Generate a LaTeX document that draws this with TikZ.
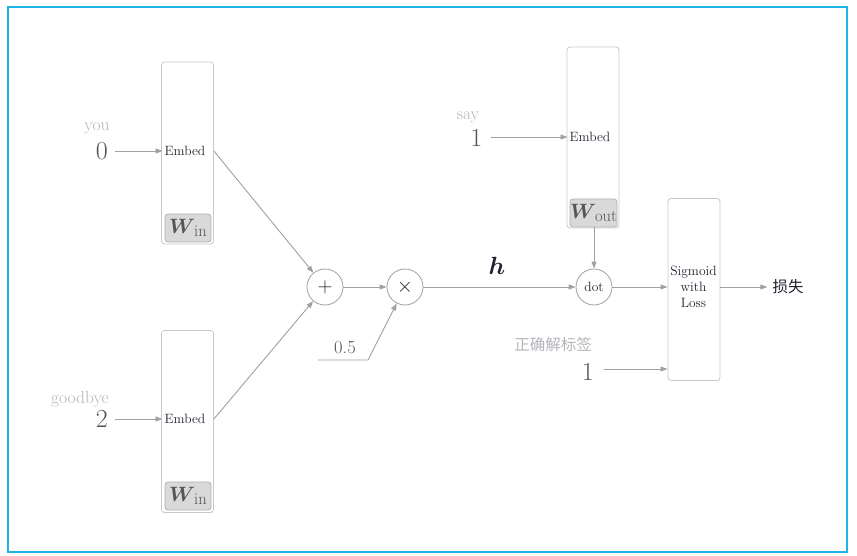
\documentclass[tikz,border=0pt]{standalone}
\usepackage{fontspec}
\usepackage{bm}
\usetikzlibrary{arrows.meta}
\newfontfamily\cjk{Noto Sans CJK SC}
\definecolor{frame}{HTML}{1EB4E8}
\definecolor{linec}{HTML}{A0A0A0}
\definecolor{boxc}{HTML}{C8C8C8}
\definecolor{lblc}{HTML}{B4B4BA}
\definecolor{numc}{HTML}{555555}
\definecolor{txtc}{HTML}{222230}
\definecolor{wfill}{HTML}{D9D9D9}
\definecolor{wdraw}{HTML}{B0B0B0}
\tikzset{
  layerbox/.style={draw=boxc, line width=0.8pt, rounded corners=3pt, minimum width=52pt, inner sep=0pt},
  wbox/.style={draw=wdraw, fill=wfill, line width=0.8pt, rounded corners=3pt, minimum width=46pt, minimum height=28pt, inner sep=0pt},
  opnode/.style={draw=linec, line width=0.8pt, circle, minimum size=36pt, inner sep=0pt, text=txtc},
  arr/.style={draw=linec, line width=0.9pt, -{Triangle[length=7pt,width=5pt]}},
  emb/.style={text=txtc, font=\fontsize{13.5}{16}\selectfont, inner sep=2pt},
  lbl/.style={text=lblc, font=\fontsize{17.5}{20}\selectfont, inner sep=0pt},
  num/.style={text=numc, font=\fontsize{26}{28}\selectfont, inner ysep=4pt, inner xsep=7pt},
}
\newcommand{\Wsym}[1]{{\fontsize{22}{22}\selectfont$\bm{W}$}\kern-1pt\raisebox{-3pt}{\fontsize{16.5}{16.5}\selectfont #1}}
\begin{document}
\begin{tikzpicture}[x=1pt,y=-1pt]
\useasboundingbox (0,0) rectangle (857,556);
\draw[frame, line width=1.3pt] (8,7) rectangle (847,552);

% left column
\node[layerbox, minimum height=182pt] (e1) at (187.5,153) {};
\node[emb] (emb1) at (185,151) {Embed};
\node[wbox, text=numc] (win1) at (188,228) {\Wsym{in}};
\node[lbl] (you) at (97,128) {you};
\node[num, anchor=east] (n0) at (115,151) {0};
\draw[arr] (n0.east) -- (emb1.west);

\node[layerbox, minimum height=182pt] (e2) at (187.5,421.5) {};
\node[emb] (emb2) at (185,419) {Embed};
\node[wbox, text=numc] (win2) at (188,496) {\Wsym{in}};
\node[lbl] (bye) at (80,399) {goodbye};
\node[num, anchor=east] (n2) at (115,419) {2};
\draw[arr] (n2.east) -- (emb2.west);

% operators
\node[opnode] (plus) at (325,287) {\fontsize{20}{20}\selectfont$+$};
\node[opnode] (times) at (405,287) {\fontsize{20}{20}\selectfont$\times$};
\draw[arr] (e1.east |- emb1.center) -- (plus);
\draw[arr] (e2.east |- emb2.center) -- (plus);
\draw[arr] (plus) -- (times);
\coordinate (ha) at (318,360);
\coordinate (hb) at (368,360);
\node[text=numc, font=\fontsize{18.5}{20}\selectfont, inner sep=0pt] (half) at (345,348) {0.5};
\draw[arr] (ha) -- (hb) -- (times);

% right part
\node[opnode] (dot) at (594,287) {\fontsize{13.5}{16}\selectfont dot};
\draw[arr] (times) -- (dot);
\node[text=txtc, font=\fontsize{29}{30}\selectfont, inner sep=0pt] (h) at (497,266) {$\bm{h}$};

\node[layerbox, minimum height=181pt] (e3) at (593,137.5) {};
\node[emb] (emb3) at (590,137) {Embed};
\node[wbox, text=numc, minimum width=47pt] (wout) at (593.5,213) {\Wsym{out}};
\node[lbl] (say) at (468,117) {say};
\node[num, anchor=east, inner xsep=8.5pt] (n1) at (491,138) {1};
\draw[arr] ([yshift=1pt]n1.east) -- ([yshift=1pt]n1.east -| emb3.west);
\draw[arr] (wout.south -| dot) -- (dot);

\node[layerbox, minimum height=182pt] (sig) at (694,289.5) {};
\node[emb, align=center, font=\fontsize{13.5}{16}\selectfont] (sigt) at (693.5,287) {Sigmoid\\with\\Loss};
\draw[arr] (dot) -- (dot -| sig.west);
\node[text=txtc, font=\cjk\fontsize{15.5}{18}\selectfont, inner sep=0pt] (loss) at (788,287) {损失};
\draw[arr] (sig.east |- dot) -- ([xshift=-5pt]loss.west);
\node[lbl, font=\cjk\fontsize{15.5}{18}\selectfont] (ans) at (553,345) {正确解标签};
\node[num, anchor=east, inner xsep=10pt] (n1b) at (604,372) {1};
\draw[arr] ([yshift=3pt]n1b.east) -- ([yshift=3pt]n1b.east -| sig.west);
\end{tikzpicture}
\end{document}
